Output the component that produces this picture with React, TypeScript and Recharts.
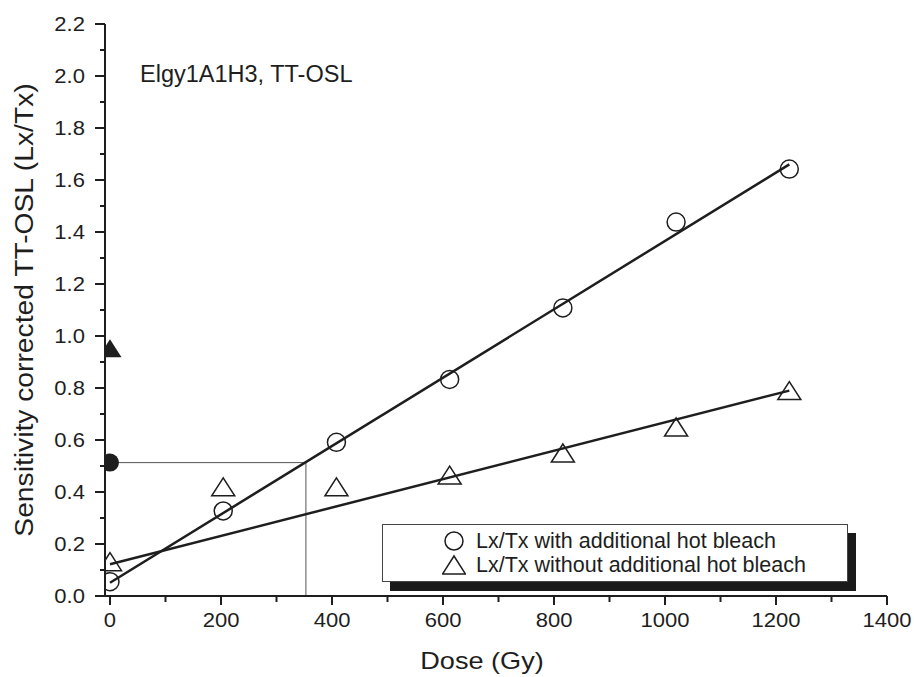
import React from "react";
import { ComposedChart, Scatter, Line, XAxis, YAxis } from "recharts";

const FONT = '"Liberation Sans", Arial, Helvetica, sans-serif';
const INK = "#1e1e1e";

// dose points (Gy)
const doses = [0, 204, 408, 612, 816, 1020, 1224];
// Lx/Tx with additional hot bleach (circles)
const withBleach = [0.055, 0.327, 0.591, 0.833, 1.108, 1.438, 1.642];
// Lx/Tx without additional hot bleach (triangles)
const withoutBleach = [0.132, 0.42, 0.42, 0.465, 0.55, 0.65, 0.79];
// natural signals, plotted at dose 0 (filled symbols)
const naturalWith = [0.513];
const naturalWithout = [0.953];
// fitted straight lines, end points
const fitWithX = [0, 1224];
const fitWithY = [0.051, 1.66];
const fitWithoutX = [0, 1224];
const fitWithoutY = [0.122, 0.79];
// equivalent dose
const equivDose = 353;

const xTicks = [0, 100, 200, 300, 400, 500, 600, 700, 800, 900, 1000, 1100, 1200, 1300, 1400];
const yTicks = [0, 0.1, 0.2, 0.3, 0.4, 0.5, 0.6, 0.7, 0.8, 0.9, 1.0, 1.1, 1.2, 1.3, 1.4, 1.5, 1.6, 1.7, 1.8, 1.9, 2.0, 2.1, 2.2];

const circleData = doses.map((x, i) => ({ x, y: withBleach[i] }));
const triangleData = doses.map((x, i) => ({ x, y: withoutBleach[i] }));
const naturalCircle = naturalWith.map((y) => ({ x: 0, y }));
const naturalTriangle = naturalWithout.map((y) => ({ x: 0, y }));
const fitWith = fitWithX.map((x, i) => ({ x, y: fitWithY[i] }));
const fitWithout = fitWithoutX.map((x, i) => ({ x, y: fitWithoutY[i] }));
const dropLine = [
  { x: 0, y: naturalWith[0] },
  { x: equivDose, y: naturalWith[0] },
  { x: equivDose, y: 0 },
];

// text drawn a little wider than Liberation Sans, like the original
const Txt = ({ x, y, size, anchor = "start", rotate = 0, stretch = 1.13, children }: any) => (
  <text
    transform={`translate(${x},${y}) rotate(${rotate}) scale(${stretch},1)`}
    textAnchor={anchor}
    fontFamily={FONT}
    fontSize={size}
    fill={INK}
  >
    {children}
  </text>
);

const XTick = ({ x, y, payload }: any) => {
  const v = payload.value;
  const major = v % 200 === 0;
  return (
    <g>
      <line x1={x} x2={x} y1={y} y2={y + (major ? 9 : 6)} stroke={INK} strokeWidth={2} />
      {major && (
        <Txt x={x} y={y + 31} size={19.5} anchor="middle">
          {v}
        </Txt>
      )}
    </g>
  );
};

const YTick = ({ x, y, payload }: any) => {
  const v = payload.value;
  const major = Math.round(v * 10) % 2 === 0;
  return (
    <g>
      <line x1={x - (major ? 10 : 5)} x2={x} y1={y} y2={y} stroke={INK} strokeWidth={2} />
      {major && (
        <Txt x={x - 20} y={y + 7} size={19.5} anchor="end">
          {v.toFixed(1)}
        </Txt>
      )}
    </g>
  );
};

const OpenCircle = ({ cx, cy }: any) => (
  <circle cx={cx} cy={cy} r={9} fill="none" stroke={INK} strokeWidth={1.5} />
);
const OpenTriangle = ({ cx, cy }: any) => (
  <polygon
    points={`${cx},${cy - 9} ${cx + 11.5},${cy + 9} ${cx - 11.5},${cy + 9}`}
    fill="none"
    stroke={INK}
    strokeWidth={1.5}
  />
);
const FilledCircle = ({ cx, cy }: any) => <circle cx={cx} cy={cy} r={9} fill={INK} />;
const FilledTriangle = ({ cx, cy }: any) => (
  <polygon points={`${cx},${cy - 9} ${cx + 11.5},${cy + 9} ${cx - 11.5},${cy + 9}`} fill={INK} />
);

const legendItems = [
  { name: "Lx/Tx with additional hot bleach", shape: "circle" },
  { name: "Lx/Tx without additional hot bleach", shape: "triangle" },
];

export default function App() {
  return (
    <div style={{ position: "absolute", left: 0, top: 0, width: 914, height: 677, background: "#fff" }}>
      <ComposedChart width={914} height={677} margin={{ top: 24, right: 27, bottom: 0, left: 0 }}>
        <XAxis
          dataKey="x"
          type="number"
          domain={[-9, 1400]}
          ticks={xTicks}
          interval={0}
          allowDataOverflow
          height={81}
          tickSize={0}
          tickMargin={0}
          tickLine={false}
          tick={<XTick />}
          axisLine={{ stroke: INK, strokeWidth: 2 }}
          label={{
            content: ({ viewBox }: any) => (
              <Txt x={viewBox.x + viewBox.width / 2 - 14} y={viewBox.y + 73} size={24} anchor="middle">
                Dose (Gy)
              </Txt>
            ),
          }}
        />
        <XAxis
          xAxisId="top"
          orientation="top"
          dataKey="x"
          type="number"
          domain={[-9, 1400]}
          height={0}
          tick={false}
          tickLine={false}
          axisLine={{ stroke: INK, strokeWidth: 2 }}
        />
        <YAxis
          dataKey="y"
          type="number"
          domain={[0, 2.2]}
          ticks={yTicks}
          interval={0}
          allowDataOverflow
          width={105}
          tickSize={0}
          tickMargin={0}
          tickLine={false}
          tick={<YTick />}
          axisLine={{ stroke: INK, strokeWidth: 2 }}
          label={{
            content: ({ viewBox }: any) => (
              <Txt x={33} y={viewBox.y + viewBox.height / 2} size={25} anchor="middle" rotate={-90}>
                Sensitivity corrected TT-OSL (Lx/Tx)
              </Txt>
            ),
          }}
        />
        <YAxis
          yAxisId="right"
          orientation="right"
          dataKey="y"
          type="number"
          domain={[0, 2.2]}
          width={0}
          tick={false}
          tickLine={false}
          axisLine={{ stroke: INK, strokeWidth: 2 }}
        />

        <Line data={dropLine} dataKey="y" stroke="#555" strokeWidth={1} dot={false} type="linear" isAnimationActive={false} />
        <Line data={fitWith} dataKey="y" stroke={INK} strokeWidth={2.5} dot={false} type="linear" isAnimationActive={false} />
        <Line data={fitWithout} dataKey="y" stroke={INK} strokeWidth={2.5} dot={false} type="linear" isAnimationActive={false} />

        <Scatter data={circleData} shape={<OpenCircle />} isAnimationActive={false} />
        <Scatter data={triangleData} shape={<OpenTriangle />} isAnimationActive={false} />
        <Scatter data={naturalCircle} shape={<FilledCircle />} isAnimationActive={false} />
        <Scatter data={naturalTriangle} shape={<FilledTriangle />} isAnimationActive={false} />
      </ComposedChart>

      <div
        style={{
          position: "absolute",
          left: 140,
          top: 60,
          fontFamily: FONT,
          fontSize: 23.5,
          lineHeight: "28px",
          color: INK,
          whiteSpace: "nowrap",
        }}
      >
        Elgy1A1H3, TT-OSL
      </div>

      <div
        style={{
          position: "absolute",
          left: 382,
          top: 524,
          width: 464,
          height: 56,
          border: "1px solid #444",
          background: "#fff",
          boxShadow: "8px 9px 0 #1a1a1a",
        }}
      >
        {legendItems.map((item, i) => (
          <div
            key={item.name}
            style={{
              position: "absolute",
              left: 0,
              top: 4 + i * 24,
              height: 24,
              display: "flex",
              alignItems: "center",
              whiteSpace: "nowrap",
            }}
          >
            <svg width={24} height={22} style={{ marginLeft: 59 }}>
              {item.shape === "circle" ? (
                <circle cx={12} cy={11} r={9} fill="none" stroke={INK} strokeWidth={1.5} />
              ) : (
                <polygon points="12,2 23.5,20 0.5,20" fill="none" stroke={INK} strokeWidth={1.5} />
              )}
            </svg>
            <span style={{ marginLeft: 10, fontFamily: FONT, fontSize: 21.5, color: INK }}>{item.name}</span>
          </div>
        ))}
      </div>
    </div>
  );
}
